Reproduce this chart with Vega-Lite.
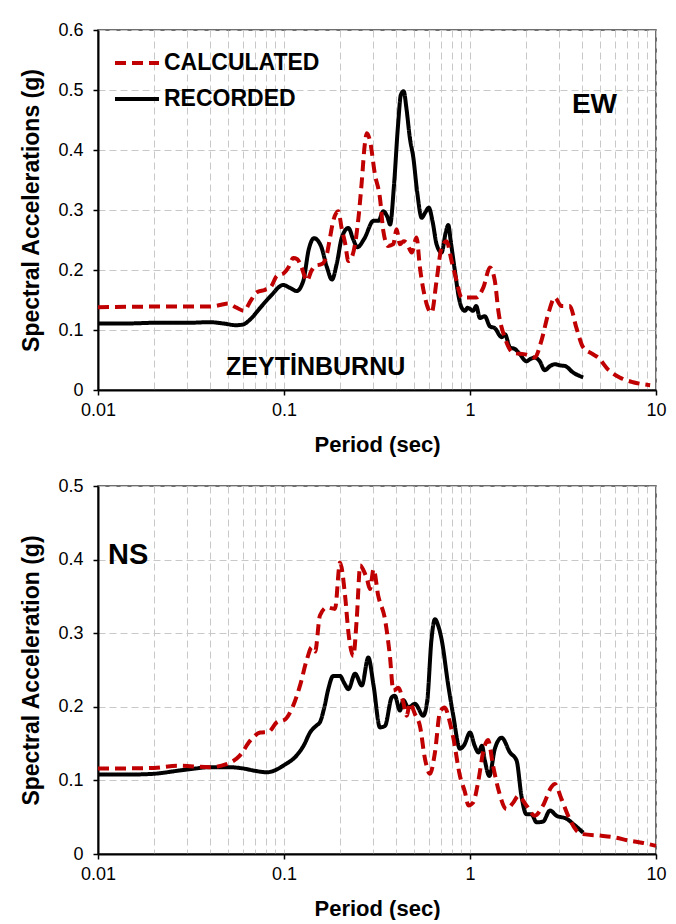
{
  "$schema": "https://vega.github.io/schema/vega-lite/v6.json",
  "background": "white",
  "padding": {"left": 20, "top": 20, "right": 0, "bottom": 0},
  "spacing": 20,
  "config": {
    "font": "Liberation Sans",
    "view": {"stroke": "#404040", "strokeWidth": 1.5},
    "axis": {
      "labelFontSize": 18, "labelColor": "black", "labelFont": "Liberation Sans",
      "titleFontSize": 22, "titleFontWeight": "bold", "titleColor": "black", "titleFont": "Liberation Sans",
      "domainColor": "black", "domainWidth": 2,
      "tickColor": "black", "tickSize": 5, "tickWidth": 1.5,
      "gridColor": "#c8c8c8", "gridDash": [7, 4], "gridWidth": 1
    }
  },
  "resolve": {"legend": {"color": "independent", "strokeDash": "independent"}},
  "datasets": {
    "ew": [
      {"series": "RECORDED", "T": 0.01, "Sa": 0.111},
      {"series": "RECORDED", "T": 0.015, "Sa": 0.111},
      {"series": "RECORDED", "T": 0.02, "Sa": 0.112},
      {"series": "RECORDED", "T": 0.03, "Sa": 0.112},
      {"series": "RECORDED", "T": 0.04, "Sa": 0.113},
      {"series": "RECORDED", "T": 0.047, "Sa": 0.111},
      {"series": "RECORDED", "T": 0.055, "Sa": 0.108},
      {"series": "RECORDED", "T": 0.06, "Sa": 0.109},
      {"series": "RECORDED", "T": 0.066, "Sa": 0.118},
      {"series": "RECORDED", "T": 0.0745, "Sa": 0.137},
      {"series": "RECORDED", "T": 0.085, "Sa": 0.157},
      {"series": "RECORDED", "T": 0.099, "Sa": 0.175},
      {"series": "RECORDED", "T": 0.108, "Sa": 0.170},
      {"series": "RECORDED", "T": 0.117, "Sa": 0.165},
      {"series": "RECORDED", "T": 0.127, "Sa": 0.182},
      {"series": "RECORDED", "T": 0.136, "Sa": 0.235},
      {"series": "RECORDED", "T": 0.145, "Sa": 0.253},
      {"series": "RECORDED", "T": 0.158, "Sa": 0.240},
      {"series": "RECORDED", "T": 0.17, "Sa": 0.205},
      {"series": "RECORDED", "T": 0.181, "Sa": 0.184},
      {"series": "RECORDED", "T": 0.192, "Sa": 0.210},
      {"series": "RECORDED", "T": 0.205, "Sa": 0.255},
      {"series": "RECORDED", "T": 0.222, "Sa": 0.270},
      {"series": "RECORDED", "T": 0.235, "Sa": 0.252},
      {"series": "RECORDED", "T": 0.248, "Sa": 0.238},
      {"series": "RECORDED", "T": 0.27, "Sa": 0.252},
      {"series": "RECORDED", "T": 0.303, "Sa": 0.282},
      {"series": "RECORDED", "T": 0.322, "Sa": 0.282},
      {"series": "RECORDED", "T": 0.342, "Sa": 0.298},
      {"series": "RECORDED", "T": 0.36, "Sa": 0.288},
      {"series": "RECORDED", "T": 0.372, "Sa": 0.276},
      {"series": "RECORDED", "T": 0.39, "Sa": 0.340},
      {"series": "RECORDED", "T": 0.41, "Sa": 0.440},
      {"series": "RECORDED", "T": 0.425, "Sa": 0.492},
      {"series": "RECORDED", "T": 0.44, "Sa": 0.498},
      {"series": "RECORDED", "T": 0.455, "Sa": 0.470},
      {"series": "RECORDED", "T": 0.475, "Sa": 0.420},
      {"series": "RECORDED", "T": 0.496, "Sa": 0.387},
      {"series": "RECORDED", "T": 0.52, "Sa": 0.330},
      {"series": "RECORDED", "T": 0.55, "Sa": 0.287},
      {"series": "RECORDED", "T": 0.575, "Sa": 0.296},
      {"series": "RECORDED", "T": 0.6, "Sa": 0.304},
      {"series": "RECORDED", "T": 0.63, "Sa": 0.280},
      {"series": "RECORDED", "T": 0.661, "Sa": 0.243},
      {"series": "RECORDED", "T": 0.703, "Sa": 0.229},
      {"series": "RECORDED", "T": 0.74, "Sa": 0.262},
      {"series": "RECORDED", "T": 0.764, "Sa": 0.275},
      {"series": "RECORDED", "T": 0.79, "Sa": 0.245},
      {"series": "RECORDED", "T": 0.83, "Sa": 0.198},
      {"series": "RECORDED", "T": 0.87, "Sa": 0.155},
      {"series": "RECORDED", "T": 0.902, "Sa": 0.137},
      {"series": "RECORDED", "T": 0.94, "Sa": 0.132},
      {"series": "RECORDED", "T": 0.97, "Sa": 0.137},
      {"series": "RECORDED", "T": 1.0, "Sa": 0.135},
      {"series": "RECORDED", "T": 1.04, "Sa": 0.132},
      {"series": "RECORDED", "T": 1.08, "Sa": 0.140},
      {"series": "RECORDED", "T": 1.13, "Sa": 0.120},
      {"series": "RECORDED", "T": 1.2, "Sa": 0.123},
      {"series": "RECORDED", "T": 1.28, "Sa": 0.106},
      {"series": "RECORDED", "T": 1.36, "Sa": 0.103},
      {"series": "RECORDED", "T": 1.48, "Sa": 0.088},
      {"series": "RECORDED", "T": 1.54, "Sa": 0.093},
      {"series": "RECORDED", "T": 1.64, "Sa": 0.071},
      {"series": "RECORDED", "T": 1.75, "Sa": 0.068},
      {"series": "RECORDED", "T": 1.85, "Sa": 0.060},
      {"series": "RECORDED", "T": 2.01, "Sa": 0.048},
      {"series": "RECORDED", "T": 2.12, "Sa": 0.052},
      {"series": "RECORDED", "T": 2.23, "Sa": 0.054},
      {"series": "RECORDED", "T": 2.37, "Sa": 0.048},
      {"series": "RECORDED", "T": 2.52, "Sa": 0.033},
      {"series": "RECORDED", "T": 2.7, "Sa": 0.040},
      {"series": "RECORDED", "T": 2.86, "Sa": 0.043},
      {"series": "RECORDED", "T": 3.05, "Sa": 0.041},
      {"series": "RECORDED", "T": 3.24, "Sa": 0.040},
      {"series": "RECORDED", "T": 3.59, "Sa": 0.029},
      {"series": "RECORDED", "T": 4.06, "Sa": 0.021},
      {"series": "CALCULATED", "T": 0.01, "Sa": 0.138},
      {"series": "CALCULATED", "T": 0.02, "Sa": 0.139},
      {"series": "CALCULATED", "T": 0.03, "Sa": 0.139},
      {"series": "CALCULATED", "T": 0.04, "Sa": 0.139},
      {"series": "CALCULATED", "T": 0.046, "Sa": 0.142},
      {"series": "CALCULATED", "T": 0.05, "Sa": 0.144},
      {"series": "CALCULATED", "T": 0.055, "Sa": 0.138},
      {"series": "CALCULATED", "T": 0.061, "Sa": 0.132},
      {"series": "CALCULATED", "T": 0.066, "Sa": 0.148},
      {"series": "CALCULATED", "T": 0.0715, "Sa": 0.163},
      {"series": "CALCULATED", "T": 0.079, "Sa": 0.167},
      {"series": "CALCULATED", "T": 0.085, "Sa": 0.172},
      {"series": "CALCULATED", "T": 0.0915, "Sa": 0.190},
      {"series": "CALCULATED", "T": 0.1, "Sa": 0.195},
      {"series": "CALCULATED", "T": 0.106, "Sa": 0.205},
      {"series": "CALCULATED", "T": 0.112, "Sa": 0.220},
      {"series": "CALCULATED", "T": 0.118, "Sa": 0.218},
      {"series": "CALCULATED", "T": 0.124, "Sa": 0.205},
      {"series": "CALCULATED", "T": 0.133, "Sa": 0.182},
      {"series": "CALCULATED", "T": 0.14, "Sa": 0.198},
      {"series": "CALCULATED", "T": 0.147, "Sa": 0.207},
      {"series": "CALCULATED", "T": 0.156, "Sa": 0.209},
      {"series": "CALCULATED", "T": 0.163, "Sa": 0.212},
      {"series": "CALCULATED", "T": 0.17, "Sa": 0.226},
      {"series": "CALCULATED", "T": 0.177, "Sa": 0.255},
      {"series": "CALCULATED", "T": 0.184, "Sa": 0.282},
      {"series": "CALCULATED", "T": 0.196, "Sa": 0.298},
      {"series": "CALCULATED", "T": 0.204, "Sa": 0.270},
      {"series": "CALCULATED", "T": 0.213, "Sa": 0.245},
      {"series": "CALCULATED", "T": 0.222, "Sa": 0.215},
      {"series": "CALCULATED", "T": 0.232, "Sa": 0.222},
      {"series": "CALCULATED", "T": 0.241, "Sa": 0.243},
      {"series": "CALCULATED", "T": 0.252, "Sa": 0.290},
      {"series": "CALCULATED", "T": 0.262, "Sa": 0.348},
      {"series": "CALCULATED", "T": 0.272, "Sa": 0.410},
      {"series": "CALCULATED", "T": 0.279, "Sa": 0.428},
      {"series": "CALCULATED", "T": 0.29, "Sa": 0.415},
      {"series": "CALCULATED", "T": 0.308, "Sa": 0.360},
      {"series": "CALCULATED", "T": 0.328, "Sa": 0.320},
      {"series": "CALCULATED", "T": 0.342, "Sa": 0.265},
      {"series": "CALCULATED", "T": 0.363, "Sa": 0.240},
      {"series": "CALCULATED", "T": 0.387, "Sa": 0.243},
      {"series": "CALCULATED", "T": 0.403, "Sa": 0.268},
      {"series": "CALCULATED", "T": 0.42, "Sa": 0.243},
      {"series": "CALCULATED", "T": 0.44, "Sa": 0.248},
      {"series": "CALCULATED", "T": 0.457, "Sa": 0.245},
      {"series": "CALCULATED", "T": 0.486, "Sa": 0.229},
      {"series": "CALCULATED", "T": 0.516, "Sa": 0.254},
      {"series": "CALCULATED", "T": 0.538, "Sa": 0.204},
      {"series": "CALCULATED", "T": 0.573, "Sa": 0.154},
      {"series": "CALCULATED", "T": 0.597, "Sa": 0.135},
      {"series": "CALCULATED", "T": 0.622, "Sa": 0.129},
      {"series": "CALCULATED", "T": 0.661, "Sa": 0.182},
      {"series": "CALCULATED", "T": 0.703, "Sa": 0.237},
      {"series": "CALCULATED", "T": 0.748, "Sa": 0.248},
      {"series": "CALCULATED", "T": 0.796, "Sa": 0.215},
      {"series": "CALCULATED", "T": 0.847, "Sa": 0.182},
      {"series": "CALCULATED", "T": 0.902, "Sa": 0.154},
      {"series": "CALCULATED", "T": 0.98, "Sa": 0.154},
      {"series": "CALCULATED", "T": 1.08, "Sa": 0.154},
      {"series": "CALCULATED", "T": 1.18, "Sa": 0.171},
      {"series": "CALCULATED", "T": 1.28, "Sa": 0.204},
      {"series": "CALCULATED", "T": 1.36, "Sa": 0.182},
      {"series": "CALCULATED", "T": 1.42, "Sa": 0.132},
      {"series": "CALCULATED", "T": 1.54, "Sa": 0.087},
      {"series": "CALCULATED", "T": 1.71, "Sa": 0.062},
      {"series": "CALCULATED", "T": 2.01, "Sa": 0.059},
      {"series": "CALCULATED", "T": 2.23, "Sa": 0.054},
      {"series": "CALCULATED", "T": 2.42, "Sa": 0.082},
      {"series": "CALCULATED", "T": 2.63, "Sa": 0.126},
      {"series": "CALCULATED", "T": 2.86, "Sa": 0.154},
      {"series": "CALCULATED", "T": 3.1, "Sa": 0.140},
      {"series": "CALCULATED", "T": 3.44, "Sa": 0.140},
      {"series": "CALCULATED", "T": 3.73, "Sa": 0.104},
      {"series": "CALCULATED", "T": 4.06, "Sa": 0.071},
      {"series": "CALCULATED", "T": 4.5, "Sa": 0.061},
      {"series": "CALCULATED", "T": 4.89, "Sa": 0.054},
      {"series": "CALCULATED", "T": 5.53, "Sa": 0.034},
      {"series": "CALCULATED", "T": 6.38, "Sa": 0.021},
      {"series": "CALCULATED", "T": 7.53, "Sa": 0.013},
      {"series": "CALCULATED", "T": 9.3, "Sa": 0.008}
    ],
    "ns": [
      {"series": "RECORDED", "T": 0.01, "Sa": 0.108},
      {"series": "RECORDED", "T": 0.015, "Sa": 0.108},
      {"series": "RECORDED", "T": 0.02, "Sa": 0.109},
      {"series": "RECORDED", "T": 0.0266, "Sa": 0.113},
      {"series": "RECORDED", "T": 0.033, "Sa": 0.116},
      {"series": "RECORDED", "T": 0.04, "Sa": 0.118},
      {"series": "RECORDED", "T": 0.05, "Sa": 0.118},
      {"series": "RECORDED", "T": 0.061, "Sa": 0.116},
      {"series": "RECORDED", "T": 0.07, "Sa": 0.113},
      {"series": "RECORDED", "T": 0.081, "Sa": 0.111},
      {"series": "RECORDED", "T": 0.09, "Sa": 0.114},
      {"series": "RECORDED", "T": 0.099, "Sa": 0.120},
      {"series": "RECORDED", "T": 0.117, "Sa": 0.134},
      {"series": "RECORDED", "T": 0.128, "Sa": 0.148},
      {"series": "RECORDED", "T": 0.138, "Sa": 0.165},
      {"series": "RECORDED", "T": 0.15, "Sa": 0.175},
      {"series": "RECORDED", "T": 0.156, "Sa": 0.179},
      {"series": "RECORDED", "T": 0.165, "Sa": 0.200},
      {"series": "RECORDED", "T": 0.173, "Sa": 0.224},
      {"series": "RECORDED", "T": 0.184, "Sa": 0.242},
      {"series": "RECORDED", "T": 0.2, "Sa": 0.242},
      {"series": "RECORDED", "T": 0.211, "Sa": 0.232},
      {"series": "RECORDED", "T": 0.222, "Sa": 0.224},
      {"series": "RECORDED", "T": 0.241, "Sa": 0.245},
      {"series": "RECORDED", "T": 0.262, "Sa": 0.229},
      {"series": "RECORDED", "T": 0.284, "Sa": 0.267},
      {"series": "RECORDED", "T": 0.303, "Sa": 0.229},
      {"series": "RECORDED", "T": 0.328, "Sa": 0.172},
      {"series": "RECORDED", "T": 0.349, "Sa": 0.174},
      {"series": "RECORDED", "T": 0.38, "Sa": 0.213},
      {"series": "RECORDED", "T": 0.394, "Sa": 0.215},
      {"series": "RECORDED", "T": 0.42, "Sa": 0.195},
      {"series": "RECORDED", "T": 0.438, "Sa": 0.209},
      {"series": "RECORDED", "T": 0.466, "Sa": 0.199},
      {"series": "RECORDED", "T": 0.506, "Sa": 0.204},
      {"series": "RECORDED", "T": 0.561, "Sa": 0.188},
      {"series": "RECORDED", "T": 0.59, "Sa": 0.210},
      {"series": "RECORDED", "T": 0.62, "Sa": 0.290},
      {"series": "RECORDED", "T": 0.648, "Sa": 0.319},
      {"series": "RECORDED", "T": 0.675, "Sa": 0.310},
      {"series": "RECORDED", "T": 0.703, "Sa": 0.292},
      {"series": "RECORDED", "T": 0.764, "Sa": 0.229},
      {"series": "RECORDED", "T": 0.813, "Sa": 0.188},
      {"series": "RECORDED", "T": 0.883, "Sa": 0.143},
      {"series": "RECORDED", "T": 0.93, "Sa": 0.148},
      {"series": "RECORDED", "T": 1.0, "Sa": 0.165},
      {"series": "RECORDED", "T": 1.06, "Sa": 0.147},
      {"series": "RECORDED", "T": 1.11, "Sa": 0.138},
      {"series": "RECORDED", "T": 1.16, "Sa": 0.147},
      {"series": "RECORDED", "T": 1.2, "Sa": 0.128},
      {"series": "RECORDED", "T": 1.27, "Sa": 0.106},
      {"series": "RECORDED", "T": 1.36, "Sa": 0.143},
      {"series": "RECORDED", "T": 1.48, "Sa": 0.158},
      {"series": "RECORDED", "T": 1.64, "Sa": 0.138},
      {"series": "RECORDED", "T": 1.78, "Sa": 0.127},
      {"series": "RECORDED", "T": 1.89, "Sa": 0.079},
      {"series": "RECORDED", "T": 2.01, "Sa": 0.054},
      {"series": "RECORDED", "T": 2.14, "Sa": 0.054},
      {"series": "RECORDED", "T": 2.28, "Sa": 0.043},
      {"series": "RECORDED", "T": 2.47, "Sa": 0.044},
      {"series": "RECORDED", "T": 2.69, "Sa": 0.059},
      {"series": "RECORDED", "T": 2.92, "Sa": 0.052},
      {"series": "RECORDED", "T": 3.3, "Sa": 0.048},
      {"series": "RECORDED", "T": 3.66, "Sa": 0.039},
      {"series": "RECORDED", "T": 4.06, "Sa": 0.029},
      {"series": "CALCULATED", "T": 0.01, "Sa": 0.116},
      {"series": "CALCULATED", "T": 0.02, "Sa": 0.117},
      {"series": "CALCULATED", "T": 0.0266, "Sa": 0.120},
      {"series": "CALCULATED", "T": 0.04, "Sa": 0.118},
      {"series": "CALCULATED", "T": 0.049, "Sa": 0.122},
      {"series": "CALCULATED", "T": 0.058, "Sa": 0.134},
      {"series": "CALCULATED", "T": 0.0658, "Sa": 0.154},
      {"series": "CALCULATED", "T": 0.0745, "Sa": 0.165},
      {"series": "CALCULATED", "T": 0.0826, "Sa": 0.166},
      {"series": "CALCULATED", "T": 0.0915, "Sa": 0.179},
      {"series": "CALCULATED", "T": 0.1015, "Sa": 0.183},
      {"series": "CALCULATED", "T": 0.11, "Sa": 0.197},
      {"series": "CALCULATED", "T": 0.122, "Sa": 0.229},
      {"series": "CALCULATED", "T": 0.133, "Sa": 0.265},
      {"series": "CALCULATED", "T": 0.141, "Sa": 0.281},
      {"series": "CALCULATED", "T": 0.147, "Sa": 0.275},
      {"series": "CALCULATED", "T": 0.156, "Sa": 0.324},
      {"series": "CALCULATED", "T": 0.17, "Sa": 0.335},
      {"series": "CALCULATED", "T": 0.188, "Sa": 0.333},
      {"series": "CALCULATED", "T": 0.2, "Sa": 0.396},
      {"series": "CALCULATED", "T": 0.213, "Sa": 0.351},
      {"series": "CALCULATED", "T": 0.222, "Sa": 0.301},
      {"series": "CALCULATED", "T": 0.236, "Sa": 0.269},
      {"series": "CALCULATED", "T": 0.246, "Sa": 0.319},
      {"series": "CALCULATED", "T": 0.257, "Sa": 0.392},
      {"series": "CALCULATED", "T": 0.268, "Sa": 0.385},
      {"series": "CALCULATED", "T": 0.279, "Sa": 0.374},
      {"series": "CALCULATED", "T": 0.29, "Sa": 0.360},
      {"series": "CALCULATED", "T": 0.303, "Sa": 0.387},
      {"series": "CALCULATED", "T": 0.321, "Sa": 0.351},
      {"series": "CALCULATED", "T": 0.349, "Sa": 0.319},
      {"series": "CALCULATED", "T": 0.371, "Sa": 0.269},
      {"series": "CALCULATED", "T": 0.387, "Sa": 0.222},
      {"series": "CALCULATED", "T": 0.412, "Sa": 0.226},
      {"series": "CALCULATED", "T": 0.438, "Sa": 0.206},
      {"series": "CALCULATED", "T": 0.457, "Sa": 0.188},
      {"series": "CALCULATED", "T": 0.475, "Sa": 0.205},
      {"series": "CALCULATED", "T": 0.506, "Sa": 0.190},
      {"series": "CALCULATED", "T": 0.538, "Sa": 0.174},
      {"series": "CALCULATED", "T": 0.573, "Sa": 0.129},
      {"series": "CALCULATED", "T": 0.609, "Sa": 0.109},
      {"series": "CALCULATED", "T": 0.648, "Sa": 0.138},
      {"series": "CALCULATED", "T": 0.69, "Sa": 0.193},
      {"series": "CALCULATED", "T": 0.731, "Sa": 0.199},
      {"series": "CALCULATED", "T": 0.781, "Sa": 0.178},
      {"series": "CALCULATED", "T": 0.813, "Sa": 0.158},
      {"series": "CALCULATED", "T": 0.883, "Sa": 0.106},
      {"series": "CALCULATED", "T": 0.94, "Sa": 0.084},
      {"series": "CALCULATED", "T": 0.98, "Sa": 0.066},
      {"series": "CALCULATED", "T": 1.04, "Sa": 0.070},
      {"series": "CALCULATED", "T": 1.11, "Sa": 0.100},
      {"series": "CALCULATED", "T": 1.18, "Sa": 0.140},
      {"series": "CALCULATED", "T": 1.25, "Sa": 0.155},
      {"series": "CALCULATED", "T": 1.33, "Sa": 0.120},
      {"series": "CALCULATED", "T": 1.42, "Sa": 0.088},
      {"series": "CALCULATED", "T": 1.57, "Sa": 0.061},
      {"series": "CALCULATED", "T": 1.71, "Sa": 0.070},
      {"series": "CALCULATED", "T": 1.82, "Sa": 0.079},
      {"series": "CALCULATED", "T": 2.01, "Sa": 0.066},
      {"series": "CALCULATED", "T": 2.23, "Sa": 0.052},
      {"series": "CALCULATED", "T": 2.47, "Sa": 0.066},
      {"series": "CALCULATED", "T": 2.74, "Sa": 0.091},
      {"series": "CALCULATED", "T": 2.86, "Sa": 0.095},
      {"series": "CALCULATED", "T": 3.1, "Sa": 0.075},
      {"series": "CALCULATED", "T": 3.37, "Sa": 0.052},
      {"series": "CALCULATED", "T": 3.73, "Sa": 0.032},
      {"series": "CALCULATED", "T": 4.06, "Sa": 0.027},
      {"series": "CALCULATED", "T": 4.99, "Sa": 0.025},
      {"series": "CALCULATED", "T": 5.89, "Sa": 0.023},
      {"series": "CALCULATED", "T": 7.23, "Sa": 0.018},
      {"series": "CALCULATED", "T": 8.52, "Sa": 0.015},
      {"series": "CALCULATED", "T": 10, "Sa": 0.011}
    ],
    "ewLabels": [
      {"label": "EW", "T": 4.67, "Sa": 0.475, "size": "big"},
      {"label": "ZEYTİNBURNU", "T": 0.148, "Sa": 0.038, "size": "small"}
    ],
    "nsLabels": [
      {"label": "NS", "T": 0.01132, "Sa": 0.406}
    ]
  },
  "vconcat": [
    {
      "width": 558,
      "height": 360,
      "layer": [
        {
          "data": {"name": "ew"},
          "transform": [{"filter": "datum.series == 'RECORDED'"}],
          "mark": {"type": "line", "interpolate": "monotone", "strokeWidth": 4, "strokeCap": "butt"},
          "encoding": {
            "x": {"field": "T", "type": "quantitative",
              "scale": {"type": "log", "domain": [0.01, 10], "nice": false},
              "axis": {"title": "Period (sec)", "values": [0.01,0.02,0.03,0.04,0.05,0.06,0.07,0.08,0.09,0.1,0.2,0.3,0.4,0.5,0.6,0.7,0.8,0.9,1,2,3,4,5,6,7,8,9,10],
                "labelExpr": "indexof([0.01,0.1,1,10], datum.value) >= 0 ? format(datum.value, '~g') : ''",
                "tickOpacity": {"condition": {"test": "indexof([0.01,0.1,1,10], datum.value) >= 0", "value": 1}, "value": 0},
                "labelFlush": false, "labelOverlap": false, "labelPadding": 6, "titlePadding": 15}},
            "y": {"field": "Sa", "type": "quantitative",
              "scale": {"domain": [0, 0.6], "nice": false},
              "axis": {"title": "Spectral Accelerations (g)", "values": [0,0.1,0.2,0.3,0.4,0.5,0.6], "format": "~g", "labelPadding": 10, "titlePadding": 14, "titleFontSize": 23}},
            "color": {"field": "series", "type": "nominal", "scale": {"domain": ["CALCULATED", "RECORDED"], "range": ["#C00000", "#000000"]},
              "legend": {"title": null, "orient": "none", "legendX": 15, "legendY": 9, "symbolType": "stroke", "symbolSize": 1936, "symbolStrokeWidth": 4, "labelFontSize": 23, "labelFontWeight": "bold", "labelColor": "black", "labelOffset": 3, "rowPadding": 0}},
            "strokeDash": {"field": "series", "type": "nominal", "scale": {"domain": ["CALCULATED", "RECORDED"], "range": [[11, 6], [1, 0]]},
              "legend": {"title": null, "orient": "none", "legendX": 15, "legendY": 9, "symbolType": "stroke", "symbolSize": 1936, "symbolStrokeWidth": 4, "labelFontSize": 23, "labelFontWeight": "bold", "labelColor": "black", "labelOffset": 3, "rowPadding": 0}}
          }
        },
        {
          "data": {"name": "ew"},
          "transform": [{"filter": "datum.series == 'CALCULATED'"}],
          "mark": {"type": "line", "interpolate": "monotone", "strokeWidth": 4, "strokeCap": "butt"},
          "encoding": {
            "x": {"field": "T", "type": "quantitative"},
            "y": {"field": "Sa", "type": "quantitative"},
            "color": {"field": "series", "type": "nominal"},
            "strokeDash": {"field": "series", "type": "nominal"}
          }
        },
        {
          "data": {"name": "ewLabels"},
          "mark": {"type": "text", "fontWeight": "bold", "align": "center", "baseline": "middle", "color": "black"},
          "encoding": {
            "x": {"field": "T", "type": "quantitative"},
            "y": {"field": "Sa", "type": "quantitative"},
            "text": {"field": "label"},
            "size": {"field": "size", "type": "nominal", "scale": {"domain": ["big", "small"], "range": [28, 25]}, "legend": null}
          }
        }
      ]
    },
    {
      "width": 558,
      "height": 368,
      "layer": [
        {
          "data": {"name": "ns"},
          "transform": [{"filter": "datum.series == 'RECORDED'"}],
          "mark": {"type": "line", "interpolate": "monotone", "strokeWidth": 4, "strokeCap": "butt"},
          "encoding": {
            "x": {"field": "T", "type": "quantitative",
              "scale": {"type": "log", "domain": [0.01, 10], "nice": false},
              "axis": {"title": "Period (sec)", "values": [0.01,0.02,0.03,0.04,0.05,0.06,0.07,0.08,0.09,0.1,0.2,0.3,0.4,0.5,0.6,0.7,0.8,0.9,1,2,3,4,5,6,7,8,9,10],
                "labelExpr": "indexof([0.01,0.1,1,10], datum.value) >= 0 ? format(datum.value, '~g') : ''",
                "tickOpacity": {"condition": {"test": "indexof([0.01,0.1,1,10], datum.value) >= 0", "value": 1}, "value": 0},
                "labelFlush": false, "labelOverlap": false, "labelPadding": 6, "titlePadding": 15}},
            "y": {"field": "Sa", "type": "quantitative",
              "scale": {"domain": [0, 0.5], "nice": false},
              "axis": {"title": "Spectral Acceleration (g)", "values": [0,0.1,0.2,0.3,0.4,0.5], "format": "~g", "labelPadding": 10, "titlePadding": 14, "titleFontSize": 23}},
            "color": {"field": "series", "type": "nominal", "scale": {"domain": ["CALCULATED", "RECORDED"], "range": ["#C00000", "#000000"]}, "legend": null},
            "strokeDash": {"field": "series", "type": "nominal", "scale": {"domain": ["CALCULATED", "RECORDED"], "range": [[11, 6], [1, 0]]}, "legend": null}
          }
        },
        {
          "data": {"name": "ns"},
          "transform": [{"filter": "datum.series == 'CALCULATED'"}],
          "mark": {"type": "line", "interpolate": "monotone", "strokeWidth": 4, "strokeCap": "butt"},
          "encoding": {
            "x": {"field": "T", "type": "quantitative"},
            "y": {"field": "Sa", "type": "quantitative"},
            "color": {"field": "series", "type": "nominal", "legend": null},
            "strokeDash": {"field": "series", "type": "nominal", "legend": null}
          }
        },
        {
          "data": {"name": "nsLabels"},
          "mark": {"type": "text", "fontSize": 29, "fontWeight": "bold", "align": "left", "baseline": "middle", "color": "black"},
          "encoding": {
            "x": {"field": "T", "type": "quantitative"},
            "y": {"field": "Sa", "type": "quantitative"},
            "text": {"field": "label"}
          }
        }
      ]
    }
  ]
}
